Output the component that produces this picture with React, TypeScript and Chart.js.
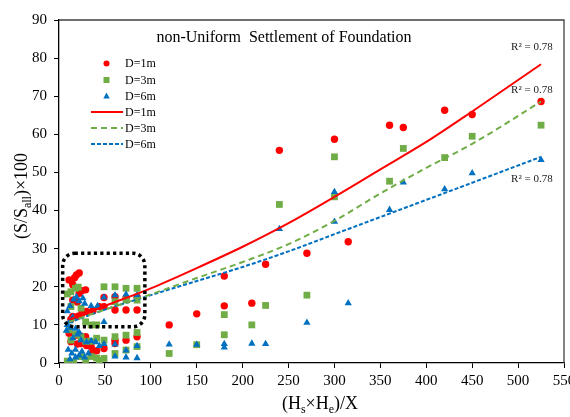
import React, { useEffect, useRef } from "react";
import { Chart, registerables } from "chart.js";

Chart.register(...registerables);

// ---------------- data ----------------
const d1X = [11, 14, 17, 19, 22, 15, 22, 25, 29, 15, 20, 13, 15, 21, 25, 30, 37, 44, 49, 49, 61, 61, 73, 73, 85, 85, 11, 18, 24, 29, 13, 20, 24, 30, 35, 37, 41, 49, 61, 61, 73, 85, 120, 150, 180, 180, 210, 225, 240, 270, 300, 315, 360, 375, 420, 450, 525];
const d1Y = [21.8, 21.5, 22.4, 23.1, 23.6, 20.5, 18.3, 19.0, 19.2, 16.5, 16.0, 11.5, 12.2, 12.3, 13.0, 13.5, 13.7, 14.8, 17.2, 14.8, 17.4, 13.9, 17.0, 13.9, 17.3, 13.9, 7.8, 7.3, 7.0, 6.9, 5.6, 5.0, 5.1, 4.6, 4.3, 3.0, 3.2, 3.8, 5.1, 6.0, 6.0, 6.9, 10.0, 12.9, 15.0, 22.8, 15.7, 25.9, 55.8, 28.8, 58.7, 31.8, 62.4, 61.8, 66.3, 65.2, 68.6];

const d3X = [9, 13, 18, 21, 13, 24, 29, 35, 41, 49, 61, 73, 85, 61, 73, 85, 11, 18, 24, 13, 29, 35, 41, 49, 61, 73, 85, 9, 16, 24, 29, 35, 41, 44, 49, 61, 73, 85, 120, 150, 180, 180, 210, 225, 240, 270, 300, 300, 360, 375, 420, 450, 525];
const d3Y = [18.1, 18.7, 19.6, 19.9, 14.8, 14.4, 10.8, 10.0, 10.0, 20.0, 20.0, 19.6, 19.6, 16.1, 16.5, 16.5, 8.7, 7.5, 6.9, 6.0, 5.7, 5.7, 6.5, 6.0, 6.9, 7.3, 8.0, 0.5, 0.2, 1.7, 0.9, 1.7, 1.3, 0.7, 1.2, 2.5, 3.4, 4.3, 2.5, 4.8, 12.7, 7.4, 10.0, 15.1, 41.6, 17.8, 54.1, 43.6, 47.7, 56.3, 53.9, 59.5, 62.4];

const d6X = [9, 12, 16, 19, 22, 26, 28, 35, 42, 9, 12, 15, 8, 12, 18, 22, 49, 61, 73, 85, 49, 49, 61, 73, 85, 61, 73, 85, 10, 14, 18, 22, 25, 28, 32, 15, 20, 24, 30, 35, 40, 44, 12, 18, 120, 150, 180, 180, 210, 225, 240, 270, 300, 300, 315, 360, 375, 420, 450, 525];
const d6Y = [13.6, 15.0, 16.7, 17.3, 16.2, 17.0, 15.6, 15.0, 15.0, 10.0, 11.0, 12.0, 8.5, 9.3, 9.0, 8.0, 17.2, 17.8, 18.0, 17.8, 10.8, 5.0, 4.9, 3.3, 4.5, 1.7, 1.5, 1.3, 3.5, 2.5, 3.5, 2.0, 3.0, 1.5, 2.5, 6.5, 7.5, 6.0, 5.5, 5.8, 5.5, 4.5, 1.0, 1.5, 4.9, 4.8, 5.0, 4.1, 5.1, 5.0, 35.2, 10.6, 44.9, 37.1, 15.7, 40.2, 47.4, 45.6, 49.8, 53.3];

// trend lines
const trendX = [11, 50, 100, 150, 200, 250, 300, 350, 400, 450, 525];
const trend1Y = [11.4, 15.0, 19.6, 24.9, 30.5, 36.7, 43.6, 50.8, 58.0, 66.0, 78.4];
const trend3Y = [10.8, 14.0, 18.0, 22.3, 26.5, 31.2, 37.3, 44.5, 51.2, 57.5, 68.6];
const trend6Y = [10.6, 14.0, 17.8, 21.5, 25.2, 29.3, 33.8, 38.3, 42.8, 47.3, 54.1];

const seriesNames = ["D=1m", "D=3m", "D=6m"];
const r2Labels = ["R² = 0.78", "R² = 0.78", "R² = 0.78"];
const r2AnchorY = [82.8, 71.5, 48.3];
const r2AnchorX = 515;
const titleText = "non-Uniform  Settlement of Foundation";

const RED = "#FF0000";
const GREEN = "#70AD47";
const BLUE = "#0070C0";
const FONT = '"Liberation Serif", "Times New Roman", serif';

type Seg = { t: string; sub?: boolean };

function drawRich(ctx: CanvasRenderingContext2D, segs: Seg[], cx: number, cy: number, size: number) {
  const subSize = Math.round(size * 0.68);
  let total = 0;
  const widths = segs.map((s) => {
    ctx.font = `${s.sub ? subSize : size}px ${FONT}`;
    const w = ctx.measureText(s.t).width;
    total += w;
    return w;
  });
  let x = cx - total / 2;
  ctx.textAlign = "left";
  ctx.textBaseline = "middle";
  segs.forEach((s, i) => {
    ctx.font = `${s.sub ? subSize : size}px ${FONT}`;
    ctx.fillText(s.t, x, cy + (s.sub ? size * 0.32 : 0));
    x += widths[i];
  });
}

const decorPlugin = {
  id: "decor",
  afterDraw(chart: any) {
    const ctx: CanvasRenderingContext2D = chart.ctx;
    const { left, right, top, bottom } = chart.chartArea;
    const xs = chart.scales.x;
    const ys = chart.scales.y;
    ctx.save();

    // frame top / right
    ctx.strokeStyle = "#404040";
    ctx.lineWidth = 1.3;
    ctx.beginPath();
    ctx.moveTo(left, top);
    ctx.lineTo(right, top);
    ctx.lineTo(right, bottom);
    ctx.stroke();

    // dotted rounded box
    const bx0 = xs.getPixelForValue(4);
    const bx1 = xs.getPixelForValue(93.5);
    const by0 = ys.getPixelForValue(28.8);
    const by1 = ys.getPixelForValue(9.5);
    ctx.strokeStyle = "#000";
    ctx.lineWidth = 3.5;
    ctx.setLineDash([3.2, 3.2]);
    ctx.beginPath();
    (ctx as any).roundRect(bx0, by0, bx1 - bx0, by1 - by0, 12);
    ctx.stroke();
    ctx.setLineDash([]);

    // title
    ctx.fillStyle = "#000";
    ctx.font = `16px ${FONT}`;
    ctx.textAlign = "center";
    ctx.textBaseline = "middle";
    ctx.fillText(titleText, 284, 38);

    // R² labels
    ctx.font = `11px ${FONT}`;
    ctx.fillStyle = "#222";
    r2Labels.forEach((t, i) => {
      ctx.fillText(t, xs.getPixelForValue(r2AnchorX), ys.getPixelForValue(r2AnchorY[i]));
    });

    // legend
    const lx = 106.5;
    const tx = 125;
    const rows = [63.5, 80, 96, 112, 128, 144];
    ctx.font = `12px ${FONT}`;
    ctx.textAlign = "left";
    ctx.textBaseline = "middle";
    ctx.fillStyle = RED;
    ctx.beginPath();
    ctx.arc(lx, rows[0], 3, 0, Math.PI * 2);
    ctx.fill();
    ctx.fillStyle = GREEN;
    ctx.fillRect(lx - 3, rows[1] - 3, 6, 6);
    ctx.fillStyle = BLUE;
    ctx.beginPath();
    ctx.moveTo(lx, rows[2] - 3.5);
    ctx.lineTo(lx + 3.2, rows[2] + 2.5);
    ctx.lineTo(lx - 3.2, rows[2] + 2.5);
    ctx.closePath();
    ctx.fill();
    const lineStyles: [string, number[]][] = [
      [RED, []],
      [GREEN, [6, 4]],
      [BLUE, [4, 2]],
    ];
    lineStyles.forEach(([c, dash], i) => {
      ctx.strokeStyle = c;
      ctx.lineWidth = 2;
      ctx.setLineDash(dash);
      ctx.beginPath();
      ctx.moveTo(91, rows[3 + i]);
      ctx.lineTo(123, rows[3 + i]);
      ctx.stroke();
    });
    ctx.setLineDash([]);
    ctx.fillStyle = "#000";
    for (let i = 0; i < 6; i++) {
      ctx.fillText(seriesNames[i % 3], tx, rows[i] + 0.5);
    }

    // axis titles
    ctx.fillStyle = "#000";
    drawRich(ctx, [{ t: "(H" }, { t: "s", sub: true }, { t: "×H" }, { t: "e", sub: true }, { t: ")/X" }], 320, 404, 18);
    ctx.save();
    ctx.translate(22, 196);
    ctx.rotate(-Math.PI / 2);
    drawRich(ctx, [{ t: "(S/S" }, { t: "all", sub: true }, { t: ")×100" }], 0, 0, 18);
    ctx.restore();

    ctx.restore();
  },
};

function pts(xs: number[], ys: number[]) {
  return xs.map((x, i) => ({ x, y: ys[i] }));
}

export default function App() {
  const ref = useRef<HTMLCanvasElement | null>(null);

  useEffect(() => {
    if (!ref.current) return;
    const tickFont = { family: FONT, size: 15 };
    const chart = new Chart(ref.current, {
      type: "scatter",
      data: {
        datasets: [
          {
            type: "line",
            label: "D=1m fit",
            data: pts(trendX, trend1Y),
            borderColor: RED,
            borderWidth: 2,
            pointRadius: 0,
            fill: false,
            cubicInterpolationMode: "monotone",
            order: 1,
          } as any,
          {
            type: "line",
            label: "D=3m fit",
            data: pts(trendX, trend3Y),
            borderColor: GREEN,
            borderWidth: 2,
            borderDash: [6, 4],
            pointRadius: 0,
            fill: false,
            cubicInterpolationMode: "monotone",
            order: 2,
          } as any,
          {
            type: "line",
            label: "D=6m fit",
            data: pts(trendX, trend6Y),
            borderColor: BLUE,
            borderWidth: 2,
            borderDash: [4, 2],
            pointRadius: 0,
            fill: false,
            cubicInterpolationMode: "monotone",
            order: 3,
          } as any,
          {
            label: seriesNames[2],
            data: pts(d6X, d6Y),
            pointStyle: "triangle",
            pointRadius: 4.2,
            backgroundColor: BLUE,
            borderColor: BLUE,
            borderWidth: 0,
            order: 4,
          },
          {
            label: seriesNames[1],
            data: pts(d3X, d3Y),
            pointStyle: "rect",
            pointRadius: 4.8,
            backgroundColor: GREEN,
            borderColor: GREEN,
            borderWidth: 0,
            order: 5,
          },
          {
            label: seriesNames[0],
            data: pts(d1X, d1Y),
            pointStyle: "circle",
            pointRadius: 3.7,
            backgroundColor: RED,
            borderColor: RED,
            borderWidth: 0,
            order: 6,
          },
        ],
      },
      options: {
        animation: false,
        responsive: false,
        maintainAspectRatio: false,
        layout: { padding: { left: 0, right: 6, top: 20, bottom: 0 } },
        plugins: {
          legend: { display: false },
          tooltip: { enabled: false },
          title: { display: false },
        },
        scales: {
          x: {
            type: "linear",
            min: 0,
            max: 550,
            ticks: { stepSize: 50, font: tickFont, color: "#000", padding: 4, maxRotation: 0, autoSkip: false },
            grid: { drawOnChartArea: false, drawTicks: true, tickLength: 5, color: "#000" },
            border: { color: "#000", width: 1.3 },
            afterFit: (s: any) => {
              s.height = 54;
              s.paddingLeft = 0;
              s.paddingRight = 0;
            },
          },
          y: {
            type: "linear",
            min: 0,
            max: 90,
            ticks: { stepSize: 10, font: tickFont, color: "#000", padding: 7 },
            grid: { drawOnChartArea: false, drawTicks: true, tickLength: 5, color: "#000" },
            border: { color: "#000", width: 1.3 },
            afterFit: (s: any) => {
              s.width = 59;
              s.paddingTop = 0;
              s.paddingBottom = 0;
            },
          },
        },
      } as any,
      plugins: [decorPlugin],
    });
    return () => chart.destroy();
  }, []);

  return (
    <div style={{ position: "fixed", left: 0, top: 0, width: 570, height: 417, background: "#fff" }}>
      <canvas ref={ref} width={570} height={417} style={{ display: "block" }} />
    </div>
  );
}
